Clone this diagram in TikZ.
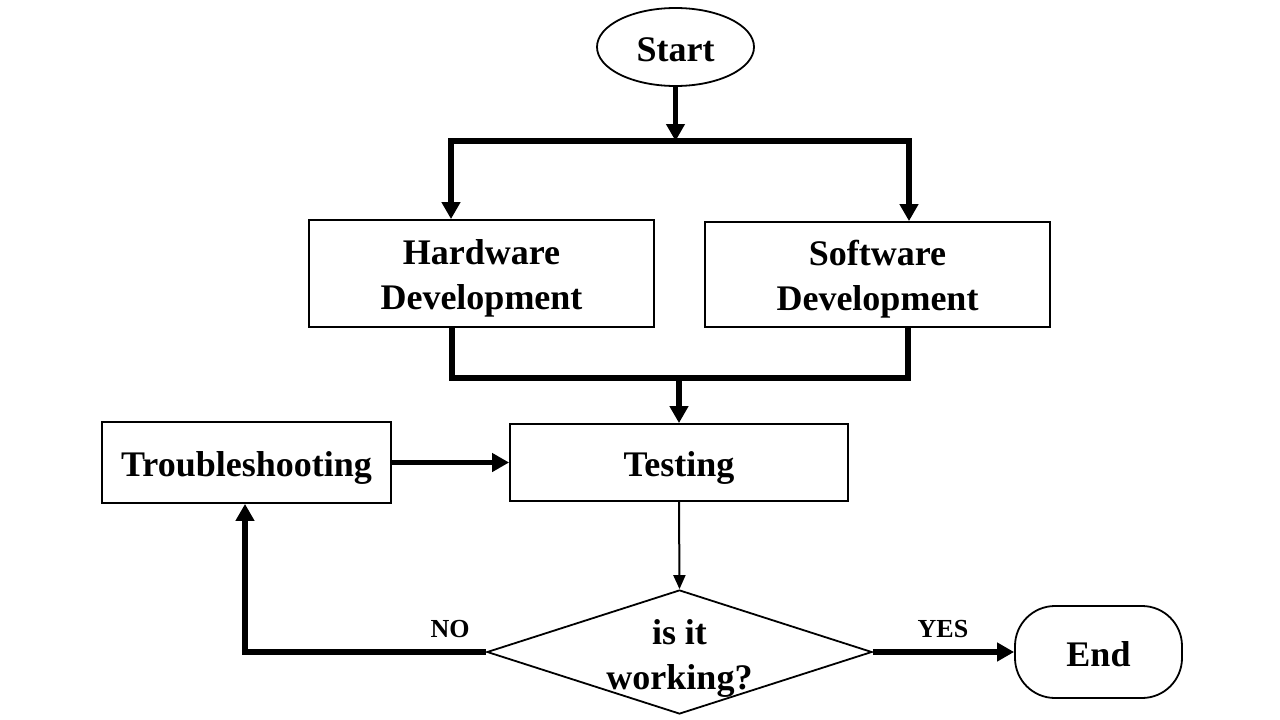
\documentclass[tikz,border=0pt]{standalone}
\usepackage{fontspec}
\setmainfont{Liberation Serif}
\usetikzlibrary{shapes.geometric,arrows.meta}
\begin{document}
\begin{tikzpicture}[x=1pt,y=-1pt,
  txt/.style={font=\fontsize{36}{45}\selectfont\bfseries, align=center},
  box/.style={txt, draw, line width=1.8pt, inner sep=0pt},
  thk/.style={line width=5.5pt},
  arr/.style={line width=5.5pt, -{Triangle[length=17pt,width=18pt]}},
  thinarr/.style={line width=2pt, -{Triangle[length=14pt,width=12pt]}},
  lab/.style={font=\fontsize{26}{30}\selectfont\bfseries}]
\fill[white] (0,0) rectangle (1280,720);
\useasboundingbox (0,0) rectangle (1280,720);
\node[box, ellipse, minimum width=157pt, minimum height=78pt, text height=29pt] (start) at (675.5,47) {Start};
\node[box, minimum width=345pt, minimum height=107pt, text height=80pt] (hw) at (481.5,273.5) {Hardware\\Development};
\node[box, minimum width=345pt, minimum height=105pt, text height=80pt] (sw) at (877.5,274.5) {Software\\Development};
\node[box, minimum width=338pt, minimum height=77pt, text height=35pt] (testing) at (679,462.5) {Testing};
\node[box, minimum width=289pt, minimum height=81pt, text height=35pt] (trouble) at (246.5,462.5) {Troubleshooting};
\node[draw, line width=1.8pt, diamond, inner sep=0pt, minimum width=385pt, minimum height=124pt] (dia) at (679.5,652) {};
\node[txt] (diatxt) at (679.5,658) {is it\\working?};
\node[box, rounded corners=40pt, minimum width=167pt, minimum height=92pt, text height=29pt] (endn) at (1098.5,652) {End};
\coordinate (barL) at (451,141);
\coordinate (barR) at (909,141);
\coordinate (jL) at (452,378);
\coordinate (jR) at (908,378);
\coordinate (nob) at (245,652);
\draw[arr] (start.south) -- (start.south |- barL);
\draw[thk, line cap=rect] (barL) -- (barR);
\draw[arr] (barL) -- (barL |- hw.north);
\draw[arr] (barR) -- (barR |- sw.north);
\draw[thk, line join=miter] (jL |- hw.south) -- (jL) -- (jR) -- (jR |- sw.south);
\draw[arr] (testing.north |- jL) -- (testing.north);
\draw[arr] (trouble.east) -- (testing.west);
\draw[thinarr] (testing.south) -- (dia.north);
\draw[arr, line join=miter] (dia.west) -- (nob) -- (nob |- trouble.south);
\draw[arr] (dia.east) -- (endn.west);
\node[lab] (no) at (450,629) {NO};
\node[lab] (yes) at (943,629) {YES};
\end{tikzpicture}
\end{document}
